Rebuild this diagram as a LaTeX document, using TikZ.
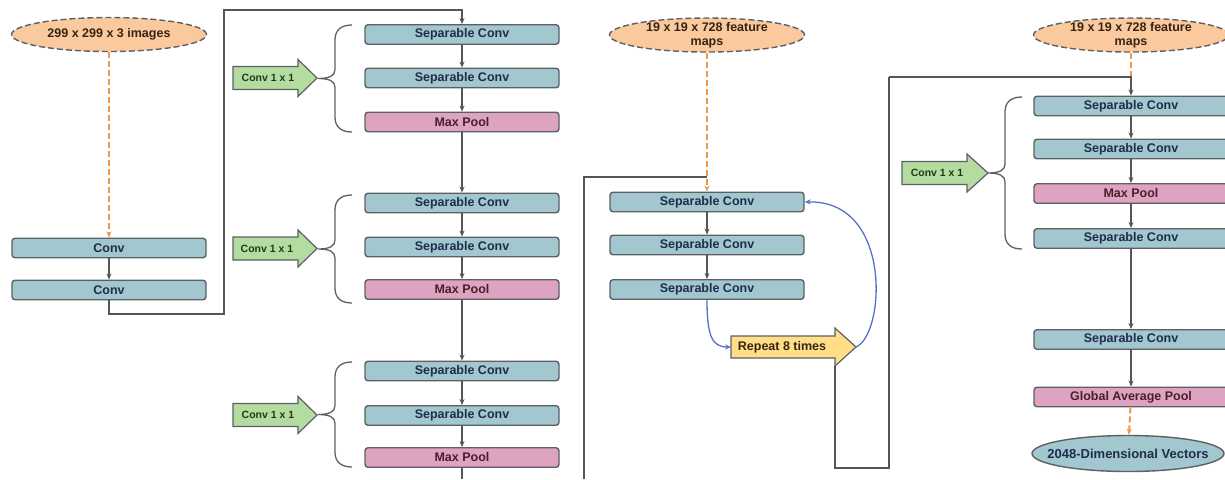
\documentclass[tikz,border=0pt]{standalone}
\usepackage{fontspec}
\setmainfont{Liberation Sans}
\usetikzlibrary{arrows.meta,shapes.geometric,calc}

\definecolor{tealfill}{RGB}{163,199,206}
\definecolor{pinkfill}{RGB}{221,163,193}
\definecolor{orangefill}{RGB}{250,201,157}
\definecolor{greenfill}{RGB}{180,219,160}
\definecolor{yellowfill}{RGB}{255,222,135}
\definecolor{boxline}{RGB}{92,96,100}
\definecolor{flowgray}{RGB}{85,85,85}
\definecolor{feedorange}{RGB}{238,150,75}
\definecolor{loopblue}{RGB}{85,115,190}
\definecolor{navytext}{RGB}{30,45,75}
\definecolor{maroontext}{RGB}{75,30,45}
\definecolor{browntext}{RGB}{55,35,20}
\definecolor{greentext}{RGB}{30,60,20}

% left curly brace: #1 = x of the brace ends, #2 = top y, #3 = bottom y
\newcommand\bracegroup[3]{%
  \draw[brace] (#1,#2) .. controls ({#1-12},#2) and ({#1-17},{#2+6}) .. ({#1-17},{#2+15})
    -- ({#1-17},{(#2+#3)/2-9}) .. controls ({#1-17},{(#2+#3)/2-3}) and ({#1-22},{(#2+#3)/2}) .. ({#1-34},{(#2+#3)/2})
    .. controls ({#1-22},{(#2+#3)/2}) and ({#1-17},{(#2+#3)/2+3}) .. ({#1-17},{(#2+#3)/2+9})
    -- ({#1-17},{#3-15}) .. controls ({#1-17},{#3-6}) and ({#1-12},#3) .. (#1,#3);}

% block arrow: #1 = style, #2 = tail x, #3 = base of head x, #4 = tip x, #5 = centre y, #6 = half body, #7 = half head
\newcommand\blockarrow[7]{%
  \draw[#1] (#2,{#5-#6}) -- (#3,{#5-#6}) -- (#3,{#5-#7}) -- (#4,#5) -- (#3,{#5+#7})
    -- (#3,{#5+#6}) -- (#2,{#5+#6}) -- cycle;}

\begin{document}
\begin{tikzpicture}[x=1pt,y=-1pt,
  every node/.style={font=\bfseries\fontsize{12.5}{14}\selectfont},
  layer/.style={draw=boxline, line width=1.4pt, rounded corners=3pt,
    minimum width=194pt, minimum height=19.5pt, inner sep=0pt},
  convbox/.style={layer, fill=tealfill, text=navytext},
  poolbox/.style={layer, fill=pinkfill, text=maroontext},
  datanode/.style={ellipse, draw=boxline, dash pattern=on 6pt off 3pt, line width=1.4pt,
    fill=orangefill, minimum width=195pt, minimum height=34pt, inner sep=-20pt,
    align=center, text=browntext},
  outnode/.style={ellipse, draw=boxline, line width=1.4pt, fill=tealfill,
    minimum width=192pt, minimum height=36pt, inner sep=-20pt, text=navytext,
    font=\bfseries\fontsize{13}{15}\selectfont},
  flow/.style={draw=flowgray, line width=1.5pt, -{Stealth[length=6pt,width=5pt]}},
  link/.style={draw=flowgray, line width=1.5pt},
  feed/.style={draw=feedorange, line width=2pt, dash pattern=on 6pt off 3pt,
    -{Stealth[length=6pt,width=5pt]}},
  feedline/.style={draw=feedorange, line width=2pt, dash pattern=on 6pt off 3pt},
  loop/.style={draw=loopblue, line width=1.3pt, -{Stealth[length=6pt,width=5pt]}},
  brace/.style={draw=boxline, line width=1.3pt},
  greenarrow/.style={draw=boxline, line width=1.2pt, fill=greenfill},
  yellowarrow/.style={draw=boxline, line width=1.2pt, fill=yellowfill},
  hint/.style={inner sep=0pt, text=greentext, font=\bfseries\fontsize{10.5}{12}\selectfont},
  repeattext/.style={inner sep=0pt, text=browntext}
]
\useasboundingbox (0,0) rectangle (1225,479);
\clip (0,0) rectangle (1225,479);

% ---------- entry flow ----------
\node[datanode] (in1) at (109,34.5) {299 x 299 x 3 images};
\node[convbox] (conv1) at (109,248) {Conv};
\node[convbox] (conv2) at (109,290) {Conv};

% ---------- entry flow: three separable blocks ----------
\node[convbox] (sc1) at (462,34.5) {Separable Conv};
\node[convbox] (sc2) at (462,78)   {Separable Conv};
\node[poolbox] (mp1) at (462,122)  {Max Pool};
\node[convbox] (sc3) at (462,203)  {Separable Conv};
\node[convbox] (sc4) at (462,247)  {Separable Conv};
\node[poolbox] (mp2) at (462,289.5){Max Pool};
\node[convbox] (sc5) at (462,371)  {Separable Conv};
\node[convbox] (sc6) at (462,415.5){Separable Conv};
\node[poolbox] (mp3) at (462,457.5){Max Pool};

% ---------- middle flow ----------
\node[datanode] (in2) at (707,35) {19 x 19 x 728 feature\\maps};
\node[convbox] (sa) at (707,202)   {Separable Conv};
\node[convbox] (sb) at (707,245)   {Separable Conv};
\node[convbox] (sc) at (707,289.5) {Separable Conv};

% ---------- exit flow ----------
\node[datanode] (in3) at (1131,35) {19 x 19 x 728 feature\\maps};
\node[convbox] (sd)  at (1131,106)   {Separable Conv};
\node[convbox] (se)  at (1131,149)   {Separable Conv};
\node[poolbox] (mp4) at (1131,193.5) {Max Pool};
\node[convbox] (sf)  at (1131,238.5) {Separable Conv};
\node[convbox] (sg)  at (1131,339.5) {Separable Conv};
\node[poolbox] (gap) at (1131,397)   {Global Average Pool};
\node[outnode] (out) at (1128,453.5) {2048-Dimensional Vectors};

% ---------- 1x1 shortcut arrows and braces ----------
\blockarrow{greenarrow}{233}{298}{317}{78}{11.5}{18.5}
\node[hint] (h1) at (268,78) {Conv 1 x 1};
\bracegroup{352}{25}{132}

\blockarrow{greenarrow}{233}{298}{317}{248.5}{11.5}{18.5}
\node[hint] (h2) at (267,248.5) {Conv 1 x 1};
\bracegroup{352}{195}{303}

\blockarrow{greenarrow}{233}{298}{317}{415}{11.5}{18.5}
\node[hint] (h3) at (268,415) {Conv 1 x 1};
\bracegroup{352}{362}{467}

\blockarrow{greenarrow}{902}{967}{988}{173}{11.5}{19}
\node[hint] (h4) at (937,173) {Conv 1 x 1};
\bracegroup{1022}{97}{249}

% ---------- repeat marker ----------
\blockarrow{yellowarrow}{731}{835}{856}{347}{11}{19}
\node[repeattext] (rep) at (782,347) {Repeat 8 times};
\coordinate (repTail) at (731,347);
\coordinate (repTip) at (856,347);
\coordinate (repBase) at (835,366);

% ---------- routing points ----------
\coordinate (r1a) at (224,314);
\coordinate (r1b) at (224,10);
\coordinate (c2out) at (462,479);
\coordinate (c3in) at (584,479);
\coordinate (c3top) at (584,177);
\coordinate (r3a) at (835,468);
\coordinate (r3b) at (889,77);

% ---------- connectors ----------
\draw[feed] (in1) -- (conv1);
\draw[flow] (conv1) -- (conv2);
\draw[flow] (conv2.south) |- (r1a) -- (r1b) -| (sc1.north);

\draw[flow] (sc1) -- (sc2);
\draw[flow] (sc2) -- (mp1);
\draw[flow] (mp1) -- (sc3);
\draw[flow] (sc3) -- (sc4);
\draw[flow] (sc4) -- (mp2);
\draw[flow] (mp2) -- (sc5);
\draw[flow] (sc5) -- (sc6);
\draw[flow] (sc6) -- (mp3);
\draw[link] (mp3) -- (c2out);

\draw[link] (c3in) -- (c3top) -- (sa.north |- c3top);
\draw[feed] (in2) -- (sa);
\draw[flow] (sa) -- (sb);
\draw[flow] (sb) -- (sc);
\draw[loop] (sc.south) .. controls (707,336) and (712,347) .. (repTail);
\draw[loop] (repTip) .. controls (885,335) and (893,200) .. (sa.east);

\draw[link] (repBase) -- (r3a) -| (r3b);
\draw[feedline] (in3) -- (in3.south |- r3b);
\draw[flow] (r3b) -| (sd.north);
\draw[flow] (sd) -- (se);
\draw[flow] (se) -- (mp4);
\draw[flow] (mp4) -- (sf);
\draw[flow] (sf) -- (sg);
\draw[flow] (sg) -- (gap);
\draw[feed] (gap) -- (out);
\end{tikzpicture}
\end{document}
